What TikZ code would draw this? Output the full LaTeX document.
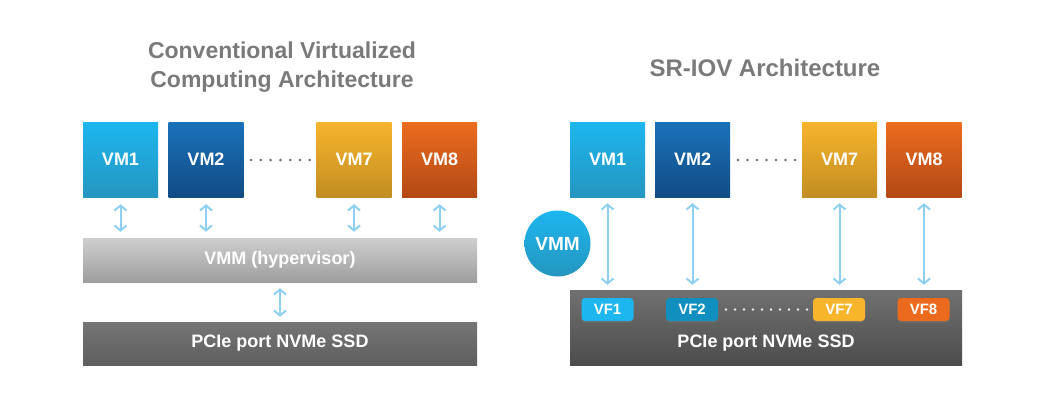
\documentclass[tikz,border=0pt]{standalone}
\usepackage{fontspec}
\setmainfont{Liberation Sans}
\usetikzlibrary{arrows.meta,shadows}
\definecolor{vmAt}{HTML}{1DB6EF}\definecolor{vmAb}{HTML}{2496BF}
\definecolor{vmBt}{HTML}{1A72B9}\definecolor{vmBb}{HTML}{114C84}
\definecolor{vmCt}{HTML}{F7B52C}\definecolor{vmCb}{HTML}{C28D22}
\definecolor{vmDt}{HTML}{EC6C1F}\definecolor{vmDb}{HTML}{B34915}
\definecolor{vfA}{HTML}{1DB6EF}\definecolor{vfB}{HTML}{1190C0}
\definecolor{vfC}{HTML}{F7B52C}\definecolor{vfD}{HTML}{EC6A1E}
\definecolor{titlegray}{HTML}{7A7A7A}
\definecolor{arrowblue}{HTML}{8ED0F2}
\definecolor{dotgray}{HTML}{6A6A6A}
\tikzset{
  vmbox/.style 2 args={minimum width=75pt, minimum height=75pt, inner sep=0pt,
    top color=#1, middle color=#1, bottom color=#2, text=white,
    font=\fontsize{18}{18}\selectfont\bfseries},
  vfbox/.style={minimum width=52pt, minimum height=23pt, inner sep=0pt,
    rounded corners=3.5pt, fill=#1, text=white,
    drop shadow={shadow xshift=0pt, shadow yshift=-1.5pt, opacity=0.35},
    font=\fontsize{15}{15}\selectfont\bfseries},
  bartext/.style={text=white, font=\fontsize{18}{18}\selectfont\bfseries, inner sep=0pt},
  titletext/.style={text=titlegray, align=center, font=\fontsize{23}{29.5}\selectfont\bfseries},
  dbl/.style={draw=arrowblue, line width=2pt,
    {Straight Barb[length=5pt,width=12pt]}-{Straight Barb[length=5pt,width=12pt]}},
}
\begin{document}
\begin{tikzpicture}[x=1pt,y=-1pt]
\useasboundingbox (0,0) rectangle (1043,416);
\fill[white] (0,0) rectangle (1043,416);

% ---------- Left: conventional ----------
\node[titletext] (tL) at (282,67) {Conventional Virtualized\\Computing Architecture};

\node[vmbox={vmAt}{vmAb}] (lvm1) at (120.5,159.5) {VM1};
\node[vmbox={vmBt}{vmBb}] (lvm2) at (206,159.5) {VM2};
\node[vmbox={vmCt}{vmCb}] (lvm7) at (354,159.5) {VM7};
\node[vmbox={vmDt}{vmDb}] (lvm8) at (439.5,159.5) {VM8};
\foreach \i in {0,...,6} \fill[dotgray] (251+\i*9.8,160) circle (1.4pt);

\node[minimum width=394pt, minimum height=44pt, inner sep=0pt,
  top color=black!19, middle color=black!21, bottom color=black!38] (vmmbar) at (280,260) {};
\node[bartext] (vmmtext) at (vmmbar.center) {VMM (hypervisor)};

\node[minimum width=394pt, minimum height=43pt, inner sep=0pt,
  top color=black!54, bottom color=black!63] (pcieL) at (280,343.5) {};
\node[bartext] (pcieLtext) at (pcieL.center) {PCIe port NVMe SSD};

\foreach \v in {lvm1,lvm2,lvm7,lvm8}
  \draw[dbl, shorten <=7pt, shorten >=6pt] (\v.south) -- (\v.south |- vmmbar.north);
\draw[dbl, shorten <=6pt, shorten >=5pt] (vmmbar.south -| 280,0) -- (pcieL.north -| 280,0);

% ---------- Right: SR-IOV ----------
\node[text=titlegray, font=\fontsize{24}{24}\selectfont\bfseries] (tR) at (765,68) {SR-IOV Architecture};

\node[vmbox={vmAt}{vmAb}] (rvm1) at (607.5,159.5) {VM1};
\node[vmbox={vmBt}{vmBb}] (rvm2) at (692.5,159.5) {VM2};
\node[vmbox={vmCt}{vmCb}] (rvm7) at (839.5,159.5) {VM7};
\node[vmbox={vmDt}{vmDb}] (rvm8) at (924,159.5) {VM8};
\foreach \i in {0,...,6} \fill[dotgray] (738+\i*9.5,160) circle (1.4pt);

\node[circle, minimum size=66pt, inner sep=0pt, top color=vmAt, middle color=vmAt, bottom color=vmAb,
  text=white, font=\fontsize{19}{19}\selectfont\bfseries] (vmmc) at (557.5,243.5) {VMM};

\node[minimum width=392pt, minimum height=75pt, inner sep=0pt,
  top color=black!56, bottom color=black!70] (pcieR) at (766,327.5) {};
\node[bartext] (pcieRtext) at (766,343.5) {PCIe port NVMe SSD};

\node[vfbox=vfA] (vf1) at (607.5,309.5) {VF1};
\node[vfbox=vfB] (vf2) at (692,309.5) {VF2};
\node[vfbox=vfC] (vf7) at (839,309.5) {VF7};
\node[vfbox=vfD] (vf8) at (923.5,309.5) {VF8};
\foreach \i in {0,...,9} \fill[white!92!black] (726+\i*9,309.5) circle (1.3pt);

\foreach \v in {rvm1,rvm2,rvm7,rvm8}
  \draw[dbl, shorten <=6pt, shorten >=5pt] (\v.south) -- (\v.south |- pcieR.north);
\end{tikzpicture}
\end{document}
